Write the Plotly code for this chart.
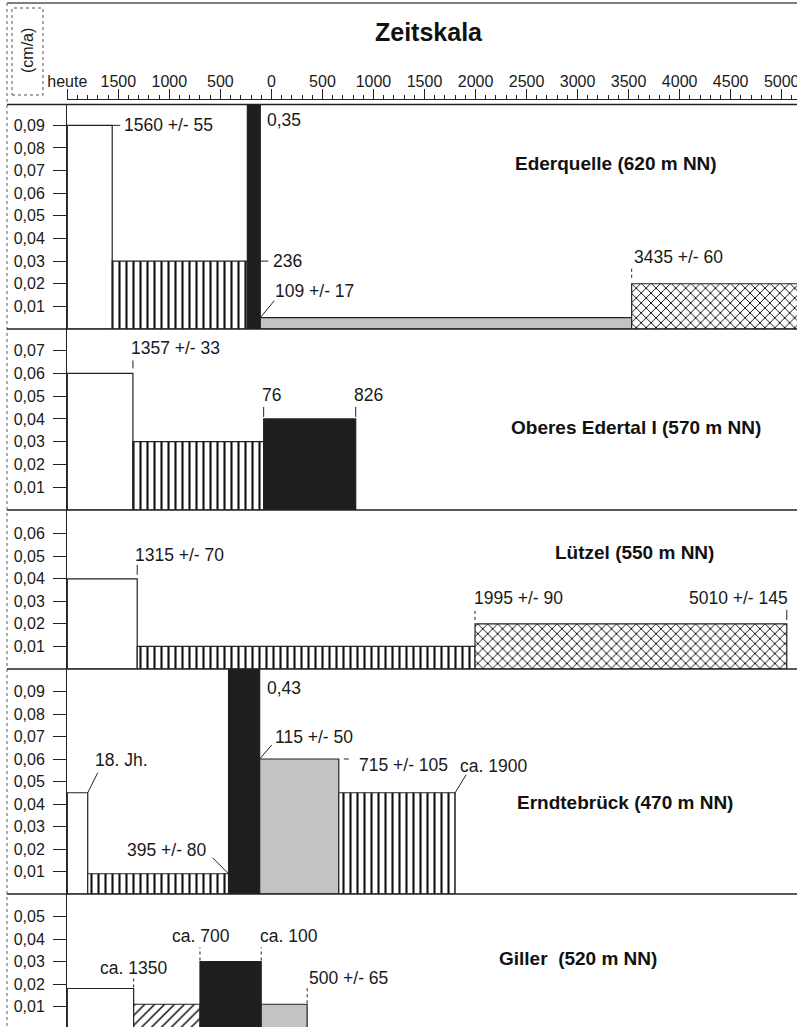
import plotly.graph_objects as go

# ---------------- DATA ----------------
# time axis: years, AD as negative, BC as positive; "heute" = -2000
HEUTE = -2000
AXIS_TICKS = [-2000, -1500, -1000, -500, 0, 500, 1000, 1500, 2000, 2500, 3000, 3500, 4000, 4500, 5000]
AXIS_TICKTEXT = ["heute", "1500", "1000", "500", "0", "500", "1000", "1500", "2000",
                 "2500", "3000", "3500", "4000", "4500", "5000"]

SITE_NAMES = ["Ederquelle (620 m NN)", "Oberes Edertal I (570 m NN)", "Lützel (550 m NN)",
              "Erndtebrück (470 m NN)", "Giller  (520 m NN)"]

# bar edges (interval boundaries) and sedimentation rates (cm/a)
EDER_EDGES = [-2000, -1560, -236, -109, 3530, 5400]
EDER_RATES = [0.09, 0.03, 0.35, 0.005, 0.02]
EDER_FILLS = ["open", "vlines", "black", "gray", "cross"]

OBER_EDGES = [-2000, -1357, -76, 826]
OBER_RATES = [0.06, 0.03, 0.04]
OBER_FILLS = ["open", "vlines", "black"]

LUTZ_EDGES = [-2000, -1315, 1995, 5050]
LUTZ_RATES = [0.04, 0.01, 0.02]
LUTZ_FILLS = ["open", "vlines", "cross"]

ERND_EDGES = [-2000, -1800, -420, -115, 660, 1800]
ERND_RATES = [0.045, 0.009, 0.43, 0.06, 0.045]
ERND_FILLS = ["open", "vlines", "black", "gray", "vlines"]

GILL_EDGES = [-2000, -1350, -700, -100, 350]
GILL_RATES = [0.018, 0.011, 0.03, 0.011]
GILL_FILLS = ["open", "diag", "black", "gray"]

# y tick values per panel
EDER_YTICKS = [0.01, 0.02, 0.03, 0.04, 0.05, 0.06, 0.07, 0.08, 0.09]
OBER_YTICKS = [0.01, 0.02, 0.03, 0.04, 0.05, 0.06, 0.07]
LUTZ_YTICKS = [0.01, 0.02, 0.03, 0.04, 0.05, 0.06]
ERND_YTICKS = [0.01, 0.02, 0.03, 0.04, 0.05, 0.06, 0.07, 0.08, 0.09]
GILL_YTICKS = [0.01, 0.02, 0.03, 0.04, 0.05]

# labels: (text, bar index, edge, level)
EDER_LABELS = [("1560 +/- 55", 0, "end", "rate"), ("0,35", 2, "end", "top"),
               ("236", 1, "end", "rate"), ("109 +/- 17", 3, "start", "rate"),
               ("3435 +/- 60", 4, "start", "rate")]
OBER_LABELS = [("1357 +/- 33", 0, "end", "rate"), ("76", 2, "start", "rate"),
               ("826", 2, "end", "rate")]
LUTZ_LABELS = [("1315 +/- 70", 0, "end", "rate"), ("1995 +/- 90", 2, "start", "rate"),
               ("5010 +/- 145", 2, "end", "rate")]
ERND_LABELS = [("18. Jh.", 0, "end", "rate"), ("395 +/- 80", 1, "end", "rate"),
               ("0,43", 2, "end", "top"), ("115 +/- 50", 3, "start", "rate"),
               ("715 +/- 105", 3, "end", "rate"), ("ca. 1900", 4, "end", "rate")]
GILL_LABELS = [("ca. 1350", 0, "end", "rate"), ("ca. 700", 2, "start", "rate"),
               ("ca. 100", 2, "end", "rate"), ("500 +/- 65", 3, "end", "rate")]

# ---------------- STYLE ----------------
W, H = 797, 1027
FONT = "Liberation Sans, Arial, sans-serif"
X_RANGE = [-2003, 5150]
PLOT_LEFT_PX = 67
# panel pixel extents (top, bottom) and y ranges
PANEL_PX = [(105, 329), (329, 510), (510, 669), (669, 894), (894, 1027)]
Y_RANGES = [[0, 0.099], [0, 0.0795], [0, 0.0705], [0, 0.1], [0.0009, 0.06]]
LABEL_SIZE = 17.5

# label placement styles: (dx, dy, xanchor, yanchor, leader(x0,y0,x1,y1) or None, dash)
EDER_LSTYLE = [(10, 0, "left", "middle", (0, 0, 8, 0), "solid"),
               (5, -3, "left", "top", None, "solid"),
               (24, 0, "left", "middle", (12, 0, 21, 0), "solid"),
               (13, 27, "left", "middle", (0, 0, 14, 17), "solid"),
               (0, 27, "left", "middle", (0, 6, 0, 16), "dot")]
OBER_LSTYLE = [(-4, 25, "left", "middle", (0, 5, 0, 13), "solid"),
               (-4, 24, "left", "middle", (0, 2, 0, 12), "solid"),
               (-4, 24, "left", "middle", (0, 2, 0, 12), "solid")]
LUTZ_LSTYLE = [(-4, 24, "left", "middle", (0, 4, 0, 14), "solid"),
               (-3, 26, "left", "middle", (0, 4, 0, 14), "dot"),
               (3, 26, "right", "middle", (0, 4, 0, 14), "solid")]
ERND_LSTYLE = [(5, 33, "left", "middle", (0, 0, 10, 20), "solid"),
               (-20, 24, "right", "middle", (0, 0, -16, 16), "solid"),
               (5, -7, "left", "top", None, "solid"),
               (13, 22, "left", "middle", (0, 0, 12, 14), "solid"),
               (18, -6, "left", "middle", (5, 0, 10, 0), "solid"),
               (3, 27, "left", "middle", (0, 0, 11, 18), "solid")]
GILL_LSTYLE = [(0, 21, "center", "middle", (0, 1, 0, 13), "dot"),
               (1, 26, "center", "middle", (0, 1, 0, 14), "dot"),
               (-3, 26, "left", "middle", (0, 1, 0, 14), "dot"),
               (0, 26, "left", "middle", (0, 1, 0, 19), "dot")]

TITLE_PX = [(616, 163), (636, 427), (634, 552), (625, 802), (578, 958)]

FILL_STYLES = {
    "open": dict(color="white"),
    "black": dict(color="#1e1e1e"),
    "gray": dict(color="#c3c3c3"),
    "vlines": dict(color="white", pattern=dict(shape="|", fgcolor="#111111", bgcolor="white",
                                               size=7, solidity=0.3, fillmode="replace")),
    "cross": dict(color="white", pattern=dict(shape="x", fgcolor="#111111", bgcolor="white",
                                              size=7, solidity=0.26, fillmode="replace")),
    "diag": dict(color="white", pattern=dict(shape="/", fgcolor="#111111", bgcolor="white",
                                             size=7, solidity=0.22, fillmode="replace")),
}

def px_x(p):
    return p / W

def px_y(p):
    return 1 - p / H

SITES = [
    (EDER_EDGES, EDER_RATES, EDER_FILLS, EDER_YTICKS, EDER_LABELS, EDER_LSTYLE),
    (OBER_EDGES, OBER_RATES, OBER_FILLS, OBER_YTICKS, OBER_LABELS, OBER_LSTYLE),
    (LUTZ_EDGES, LUTZ_RATES, LUTZ_FILLS, LUTZ_YTICKS, LUTZ_LABELS, LUTZ_LSTYLE),
    (ERND_EDGES, ERND_RATES, ERND_FILLS, ERND_YTICKS, ERND_LABELS, ERND_LSTYLE),
    (GILL_EDGES, GILL_RATES, GILL_FILLS, GILL_YTICKS, GILL_LABELS, GILL_LSTYLE),
]

fig = go.Figure()
annotations = []
shapes = []
layout_axes = {}

for i, (edges, rates, fills, yticks, labels, lstyle) in enumerate(SITES):
    n = i + 1
    xa = "x" if n == 1 else f"x{n}"
    ya = "y" if n == 1 else f"y{n}"
    for k, r in enumerate(rates):
        a, b = edges[k], edges[k + 1]
        st = FILL_STYLES[fills[k]]
        marker = dict(color=st["color"], line=dict(color="#222222", width=1.2))
        if "pattern" in st:
            marker["pattern"] = st["pattern"]
        fig.add_trace(go.Bar(x=[(a + b) / 2], y=[r], width=[b - a], base=0,
                             xaxis=xa, yaxis=ya, marker=marker,
                             showlegend=False, hoverinfo="skip"))
    top, bot = PANEL_PX[i]
    xkey = "xaxis" if n == 1 else f"xaxis{n}"
    ykey = "yaxis" if n == 1 else f"yaxis{n}"
    layout_axes[xkey] = dict(domain=[px_x(PLOT_LEFT_PX), 1], range=X_RANGE, visible=False,
                             anchor=ya, fixedrange=True)
    layout_axes[ykey] = dict(domain=[px_y(bot), px_y(top)], range=Y_RANGES[i], anchor=xa,
                             tickvals=yticks, tickformat=".2f", ticks="outside", ticklen=13,
                             tickwidth=1, tickcolor="#222", showline=True, linecolor="#222",
                             linewidth=1, showgrid=False, zeroline=False,
                             ticklabelstandoff=5, automargin=False,
                             tickfont=dict(family=FONT, size=16, color="#1a1a1a"))
    # labels
    for (text, bi, edge, level), (dx, dy, xan, yan, leader, dash) in zip(labels, lstyle):
        xv = edges[bi] if edge == "start" else edges[bi + 1]
        if level == "top":
            annotations.append(dict(x=xv, y=1, xref=xa, yref=f"{ya} domain", text=text,
                                    showarrow=False, xanchor=xan, yanchor=yan,
                                    xshift=dx, yshift=dy,
                                    font=dict(family=FONT, size=LABEL_SIZE, color="#1a1a1a")))
        else:
            yv = rates[bi]
            annotations.append(dict(x=xv, y=yv, xref=xa, yref=ya, text=text,
                                    showarrow=False, xanchor=xan, yanchor=yan,
                                    xshift=dx, yshift=dy,
                                    font=dict(family=FONT, size=LABEL_SIZE, color="#1a1a1a")))
            if leader is not None:
                x0, y0, x1, y1 = leader
                shapes.append(dict(type="line", xref=xa, yref=ya, xsizemode="pixel",
                                   ysizemode="pixel", xanchor=xv, yanchor=yv,
                                   x0=x0, x1=x1, y0=y0, y1=y1,
                                   line=dict(color="#222", width=1, dash=dash)))
    # site title
    tx, ty = TITLE_PX[i]
    annotations.append(dict(x=px_x(tx), y=px_y(ty), xref="paper", yref="paper",
                            text=f"<b>{SITE_NAMES[i]}</b>", showarrow=False,
                            xanchor="center", yanchor="middle",
                            font=dict(family=FONT, size=19, color="#111")))

# header ruler axis
layout_axes["xaxis6"] = dict(domain=[px_x(PLOT_LEFT_PX), 1], range=X_RANGE, anchor="y6",
                             side="top", tickvals=AXIS_TICKS, ticktext=AXIS_TICKTEXT,
                             ticks="outside", ticklen=10, tickwidth=1, tickcolor="#222",
                             showline=True, linecolor="#222", linewidth=1, showgrid=False,
                             zeroline=False, automargin=False, ticklabelstandoff=-4,
                             ticklabeloverflow="allow",
                             minor=dict(dtick=100, tick0=0, ticks="outside", ticklen=4,
                                        tickwidth=1, tickcolor="#222", showgrid=False),
                             tickfont=dict(family=FONT, size=16, color="#1a1a1a"),
                             fixedrange=True)
layout_axes["yaxis6"] = dict(domain=[px_y(104), px_y(100)], range=[0, 1], visible=False,
                             anchor="x6")
fig.add_trace(go.Scatter(x=[X_RANGE[0]], y=[0.5], xaxis="x6", yaxis="y6", mode="markers",
                         marker=dict(opacity=0), showlegend=False, hoverinfo="skip"))

# header texts
annotations.append(dict(x=px_x(429), y=px_y(32), xref="paper", yref="paper",
                        text="<b>Zeitskala</b>", showarrow=False,
                        xanchor="center", yanchor="middle",
                        font=dict(family=FONT, size=25, color="#111")))
annotations.append(dict(x=px_x(28), y=px_y(51), xref="paper", yref="paper",
                        text="(cm/a)", textangle=-90, showarrow=False,
                        xanchor="center", yanchor="middle",
                        font=dict(family=FONT, size=16, color="#1a1a1a")))

# frame lines
shapes.append(dict(type="rect", xref="paper", yref="paper", x0=px_x(12), x1=px_x(43),
                   y0=px_y(95), y1=px_y(8), line=dict(color="#555", width=1, dash="dot")))
shapes.append(dict(type="line", xref="paper", yref="paper", x0=px_x(7), x1=1,
                   y0=px_y(3), y1=px_y(3), line=dict(color="#555", width=1.5)))
shapes.append(dict(type="line", xref="paper", yref="paper", x0=px_x(7), x1=px_x(7),
                   y0=px_y(3), y1=0, line=dict(color="#777", width=1.2, dash="dot")))
for yp in [104.5, 329, 510, 669, 894]:
    shapes.append(dict(type="line", xref="paper", yref="paper", x0=px_x(7), x1=1,
                       y0=px_y(yp), y1=px_y(yp), line=dict(color="#222", width=1.5)))

fig.update_layout(width=W, height=H, margin=dict(l=0, r=0, t=0, b=0),
                  paper_bgcolor="white", plot_bgcolor="rgba(0,0,0,0)",
                  barmode="overlay", separators=", ", showlegend=False,
                  annotations=annotations, shapes=shapes, **layout_axes)

fig.write_html("out.html", config={"displayModeBar": False})
